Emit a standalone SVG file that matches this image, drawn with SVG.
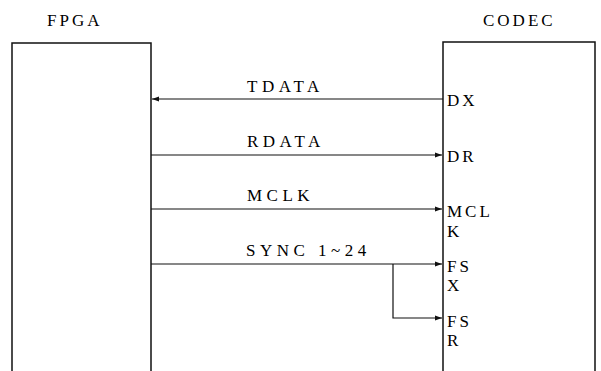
<svg xmlns="http://www.w3.org/2000/svg" width="601" height="371" viewBox="0 0 601 371">
<style>
text{font-family:"Liberation Serif","DejaVu Serif",serif;font-size:17px;fill:#000;letter-spacing:3px}
.lbl{letter-spacing:4.5px}
.box{fill:none;stroke:#111;stroke-width:1.5}
.ln{fill:none;stroke:#111;stroke-width:1.2}
</style>
<defs>
<marker id="ah" markerWidth="8" markerHeight="8" refX="7" refY="4" orient="auto" markerUnits="userSpaceOnUse">
<path d="M0,1.5 L7,4 L0,6.5 Z" fill="#111"/>
</marker>
</defs>
<rect width="601" height="371" fill="#fff"/>
<g id="fpga">
<text x="47" y="26">FPGA</text>
<path class="box" d="M12,372 V43 H151 V372"/>
</g>
<g id="codec">
<text x="483" y="26">CODEC</text>
<path class="box" d="M443,372 V42 H595 V372"/>
<text x="447" y="106">DX</text>
<text x="447" y="162">DR</text>
<text x="447" y="217">MCL</text>
<text x="447" y="237">K</text>
<text x="447" y="272">FS</text>
<text x="447" y="291">X</text>
<text x="447" y="327">FS</text>
<text x="447" y="346">R</text>
</g>
<g id="connectors">
<path class="ln" d="M443,99 H152" marker-end="url(#ah)"/>
<path class="ln" d="M151,155 H442" marker-end="url(#ah)"/>
<path class="ln" d="M151,209 H442" marker-end="url(#ah)"/>
<path class="ln" d="M151,264 H442" marker-end="url(#ah)"/>
<path class="ln" d="M393,264 V318 H442" marker-end="url(#ah)"/>
<text class="lbl" x="247" y="92">TDATA</text>
<text class="lbl" x="247" y="147">RDATA</text>
<text class="lbl" x="247" y="201">MCLK</text>
<text class="lbl" x="246" y="256">SYNC 1~24</text>
</g>
</svg>
